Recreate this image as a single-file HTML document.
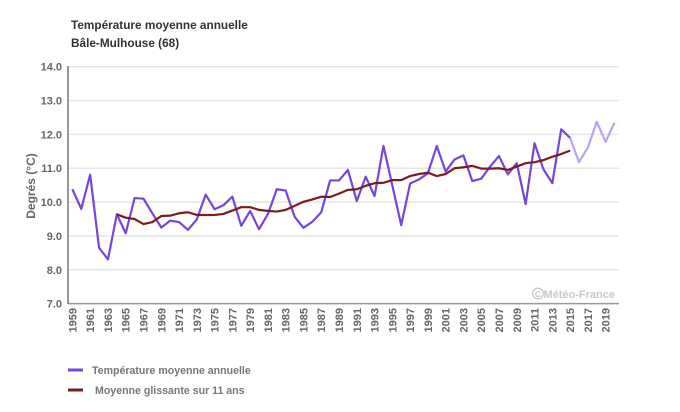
<!DOCTYPE html>
<html><head><meta charset="utf-8"><style>
html,body{margin:0;padding:0;background:#fff;}
svg{display:block;font-family:"Liberation Sans",Arial,sans-serif;}
</style></head><body>
<svg width="680" height="412" viewBox="0 0 680 412" xmlns="http://www.w3.org/2000/svg">
<rect width="680" height="412" fill="#fff"/>
<text x="71" y="29" font-size="11.8" font-weight="bold" fill="#333">Température moyenne annuelle</text>
<text x="71" y="47" font-size="11.8" font-weight="bold" fill="#333">Bâle-Mulhouse (68)</text>
<g stroke="#e6e6e6" stroke-width="1.5">
<line x1="68" y1="66.7" x2="619" y2="66.7"/>
<line x1="68" y1="100.55" x2="619" y2="100.55"/>
<line x1="68" y1="134.4" x2="619" y2="134.4"/>
<line x1="68" y1="168.25" x2="619" y2="168.25"/>
<line x1="68" y1="202.1" x2="619" y2="202.1"/>
<line x1="68" y1="235.95" x2="619" y2="235.95"/>
<line x1="68" y1="269.8" x2="619" y2="269.8"/>
</g>
<line x1="68" y1="303.65" x2="619" y2="303.65" stroke="#999" stroke-width="1.5"/>
<line x1="68" y1="66" x2="68" y2="304" stroke="#777" stroke-width="1.5"/>
<g font-size="11" font-weight="bold" fill="#666" text-anchor="end">
<text x="62" y="70.7">14.0</text>
<text x="62" y="104.5">13.0</text>
<text x="62" y="138.4">12.0</text>
<text x="62" y="172.2">11.0</text>
<text x="62" y="206.1">10.0</text>
<text x="62" y="239.9">9.0</text>
<text x="62" y="273.8">8.0</text>
<text x="62" y="307.6">7.0</text>
</g>
<text transform="translate(35,186) rotate(-90)" font-size="12" font-weight="bold" fill="#666" text-anchor="middle">Degrés (°C)</text>
<g font-size="11" font-weight="bold" fill="#666" text-anchor="end">
<text transform="translate(76.4,308) rotate(-90)">1959</text>
<text transform="translate(94.2,308) rotate(-90)">1961</text>
<text transform="translate(111.9,308) rotate(-90)">1963</text>
<text transform="translate(129.7,308) rotate(-90)">1965</text>
<text transform="translate(147.5,308) rotate(-90)">1967</text>
<text transform="translate(165.3,308) rotate(-90)">1969</text>
<text transform="translate(183.0,308) rotate(-90)">1971</text>
<text transform="translate(200.8,308) rotate(-90)">1973</text>
<text transform="translate(218.6,308) rotate(-90)">1975</text>
<text transform="translate(236.4,308) rotate(-90)">1977</text>
<text transform="translate(254.1,308) rotate(-90)">1979</text>
<text transform="translate(271.9,308) rotate(-90)">1981</text>
<text transform="translate(289.7,308) rotate(-90)">1983</text>
<text transform="translate(307.5,308) rotate(-90)">1985</text>
<text transform="translate(325.2,308) rotate(-90)">1987</text>
<text transform="translate(343.0,308) rotate(-90)">1989</text>
<text transform="translate(360.8,308) rotate(-90)">1991</text>
<text transform="translate(378.6,308) rotate(-90)">1993</text>
<text transform="translate(396.3,308) rotate(-90)">1995</text>
<text transform="translate(414.1,308) rotate(-90)">1997</text>
<text transform="translate(431.9,308) rotate(-90)">1999</text>
<text transform="translate(449.7,308) rotate(-90)">2001</text>
<text transform="translate(467.4,308) rotate(-90)">2003</text>
<text transform="translate(485.2,308) rotate(-90)">2005</text>
<text transform="translate(503.0,308) rotate(-90)">2007</text>
<text transform="translate(520.8,308) rotate(-90)">2009</text>
<text transform="translate(538.5,308) rotate(-90)">2011</text>
<text transform="translate(556.3,308) rotate(-90)">2013</text>
<text transform="translate(574.1,308) rotate(-90)">2015</text>
<text transform="translate(591.9,308) rotate(-90)">2017</text>
<text transform="translate(609.6,308) rotate(-90)">2019</text>
</g>
<g fill="#c8c8c8" font-weight="bold">
<circle cx="538" cy="293.5" r="5.3" fill="none" stroke="#c8c8c8" stroke-width="1.3"/>
<text x="538" y="296.8" font-size="8.5" text-anchor="middle">C</text>
<text x="615" y="298" font-size="11" text-anchor="end">Météo-France</text>
</g>
<g transform="translate(72.4,540.6) scale(8.887,-33.85)" fill="none" stroke-linejoin="round">
<polyline vector-effect="non-scaling-stroke" stroke="#b9a3f7" stroke-width="2.2" points="56,11.90 57,11.18 58,11.61 59,12.37 60,11.78 61,12.35"/>
<polyline vector-effect="non-scaling-stroke" stroke="#7646dc" stroke-width="2.2" points="0,10.38 1,9.80 2,10.81 3,8.65 4,8.31 5,9.64 6,9.08 7,10.12 8,10.10 9,9.67 10,9.25 11,9.45 12,9.41 13,9.18 14,9.49 15,10.22 16,9.79 17,9.91 18,10.16 19,9.30 20,9.74 21,9.20 22,9.65 23,10.38 24,10.34 25,9.57 26,9.24 27,9.42 28,9.70 29,10.64 30,10.64 31,10.95 32,10.03 33,10.75 34,10.18 35,11.66 36,10.49 37,9.32 38,10.55 39,10.67 40,10.85 41,11.66 42,10.90 43,11.26 44,11.38 45,10.62 46,10.69 47,11.05 48,11.36 49,10.82 50,11.15 51,9.94 52,11.74 53,10.97 54,10.56 55,12.15 56,11.90"/>
<polyline vector-effect="non-scaling-stroke" stroke="#7a1d1d" stroke-width="2.2" points="5,9.64 6,9.54 7,9.50 8,9.35 9,9.41 10,9.59 11,9.60 12,9.67 13,9.70 14,9.62 15,9.62 16,9.62 17,9.65 18,9.75 19,9.85 20,9.85 21,9.77 22,9.74 23,9.72 24,9.77 25,9.89 26,10.01 27,10.08 28,10.16 29,10.15 30,10.25 31,10.36 32,10.38 33,10.48 34,10.56 35,10.57 36,10.65 37,10.65 38,10.77 39,10.83 40,10.87 41,10.77 42,10.83 43,11.00 44,11.03 45,11.07 46,10.99 47,10.99 48,11.00 49,10.95 50,11.05 51,11.15 52,11.18 53,11.24 54,11.34 55,11.42 56,11.52"/>
</g>
<line x1="68" y1="370" x2="83" y2="370" stroke="#7646dc" stroke-width="3"/>
<text x="92" y="374" font-size="10.6" font-weight="bold" fill="#777">Température moyenne annuelle</text>
<line x1="68" y1="390" x2="83" y2="390" stroke="#7a1d1d" stroke-width="3"/>
<text x="95" y="394" font-size="10.6" font-weight="bold" fill="#777">Moyenne glissante sur 11 ans</text>
</svg>
</body></html>
